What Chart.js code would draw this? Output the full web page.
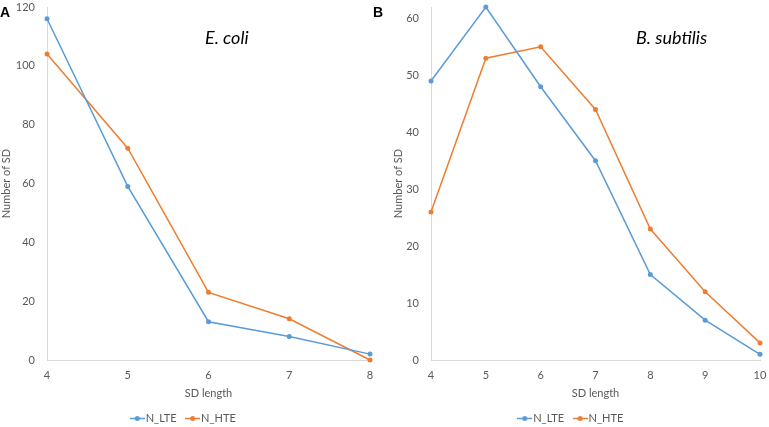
<!DOCTYPE html>
<html>
  <head>
    <style>
      * {
        margin: 0;
        padding: 0;
      }
      body {
        overflow: hidden;
        background: #ffffff;
        width: 769px;
        height: 427px;
        position: relative;
      }
      .panel {
        position: absolute;
        top: 0;
      }
      .letter {
        position: absolute;
        top: 5px;
        font-family: "Liberation Sans", sans-serif;
        font-weight: bold;
        font-size: 14px;
        line-height: 14px;
        color: #000;
      }
      .species {
        position: absolute;
        top: 28px;
        font-family: Lato, sans-serif;
        font-style: italic;
        font-size: 18px;
        line-height: 18px;
        color: #000;
      }
    </style>
  </head>
  <body>
    <canvas id="chartA" class="panel" style="left: 0" width="376" height="434"></canvas>
    <canvas id="chartB" class="panel" style="left: 385px" width="384" height="434"></canvas>
    <div class="letter" style="left: 0">A</div>
    <div class="letter" style="left: 373px">B</div>
    <div class="species" style="left: 205px">E. coli</div>
    <div class="species" style="left: 636px">B. subtilis</div>

    <script src="https://cdn.jsdelivr.net/npm/chart.js/dist/chart.umd.min.js"></script>
    <script>
      // data
      const lengthsA = ["4", "5", "6", "7", "8"];
      const lteA = [116, 59, 13, 8, 2];
      const hteA = [104, 72, 23, 14, 0];
      const yTicksA = [0, 20, 40, 60, 80, 100, 120];

      const lengthsB = ["4", "5", "6", "7", "8", "9", "10"];
      const lteB = [49, 62, 48, 35, 15, 7, 1];
      const hteB = [26, 53, 55, 44, 23, 12, 3];
      const yTicksB = [0, 10, 20, 30, 40, 50, 60];

      const seriesNames = ["N_LTE", "N_HTE"];
      const yMaxA = 120;
      const yMaxB = 62;

      const blue = "#5B9BD5";
      const orange = "#ED7D31";
      const grey = "#595959";
      const font = { family: "Lato", size: 11 };

      // little line-with-dot marker for the legend
      function legendMark(color) {
        const c = document.createElement("canvas");
        c.width = 15;
        c.height = 7;
        const g = c.getContext("2d");
        g.strokeStyle = color;
        g.lineWidth = 1.5;
        g.beginPath();
        g.moveTo(0, 3.5);
        g.lineTo(15, 3.5);
        g.stroke();
        g.fillStyle = color;
        g.beginPath();
        g.arc(7.5, 3.5, 2.5, 0, Math.PI * 2);
        g.fill();
        return c;
      }
      const marks = [legendMark(blue), legendMark(orange)];

      function series(name, values, color) {
        return {
          label: name,
          data: values,
          borderColor: color,
          backgroundColor: color,
          borderWidth: 1.5,
          pointRadius: 2.5,
          pointBorderWidth: 0,
          pointHoverRadius: 2.5,
          tension: 0,
          clip: false,
        };
      }

      function makeChart(id, labels, lte, hte, yMax, yTicks, yWidth, titlePad, rightPad) {
        return new Chart(document.getElementById(id), {
          type: "line",
          data: {
            labels: labels,
            datasets: [
              series(seriesNames[0], lte, blue),
              series(seriesNames[1], hte, orange),
            ],
          },
          options: {
            responsive: false,
            animation: false,
            layout: { padding: { top: 7, right: rightPad, bottom: 0, left: 0 } },
            plugins: {
              tooltip: { enabled: false },
              legend: {
                position: "bottom",
                labels: {
                  usePointStyle: true,
                  pointStyleWidth: 6,
                  padding: 13,
                  color: grey,
                  font: font,
                  generateLabels: function (chart) {
                    const items = Chart.defaults.plugins.legend.labels.generateLabels(chart);
                    items.forEach((it, i) => (it.pointStyle = marks[i]));
                    return items;
                  },
                },
              },
            },
            scales: {
              x: {
                grid: { display: false, drawTicks: true, tickLength: 9 },
                border: { display: true, color: "#D9D9D9", width: 1 },
                ticks: { color: grey, font: font, padding: 0, maxRotation: 0 },
                title: {
                  display: true,
                  text: "SD length",
                  color: grey,
                  font: font,
                  padding: 0,
                },
                afterFit: (s) => (s.height = 40),
              },
              y: {
                min: 0,
                max: yMax,
                grid: { display: false, drawTicks: true, tickLength: 12 },
                border: { display: true, color: "#D9D9D9", width: 1 },
                ticks: { color: grey, font: font, padding: 0 },
                afterBuildTicks: (s) => {
                  s.ticks = yTicks.map((v) => ({ value: v }));
                },
                title: {
                  display: true,
                  text: "Number of SD",
                  color: grey,
                  font: font,
                  padding: { top: titlePad, bottom: 0 },
                },
                afterFit: (s) => (s.width = yWidth),
              },
            },
          },
        });
      }

      makeChart("chartA", lengthsA, lteA, hteA, yMaxA, yTicksA, 47, 0, 6);
      makeChart("chartB", lengthsB, lteB, hteB, yMaxB, yTicksB, 46, 7, 9);
    </script>
  </body>
</html>
